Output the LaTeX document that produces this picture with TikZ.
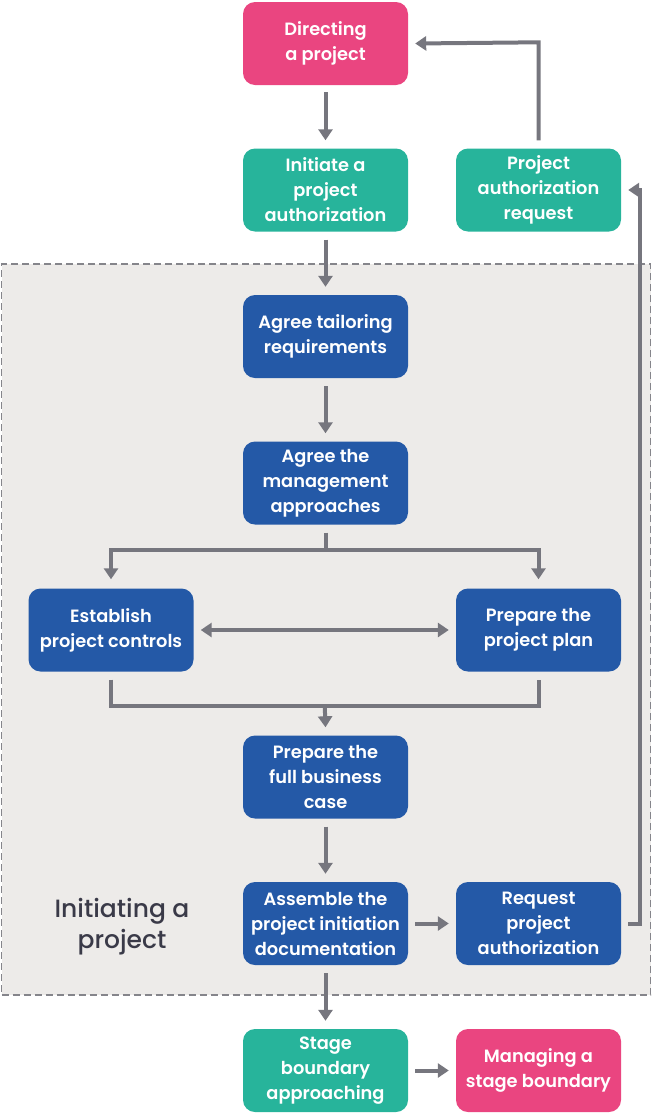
\documentclass[tikz,border=0pt]{standalone}
\usepackage{fontspec}
\setmainfont{Poppins}[UprightFont={* Medium},BoldFont={* SemiBold}]
\usetikzlibrary{arrows.meta,calc}
\definecolor{cpink}{HTML}{EA4580}
\definecolor{cteal}{HTML}{27B49B}
\definecolor{cblue}{HTML}{2459A7}
\definecolor{carrow}{HTML}{76767E}
\definecolor{cregion}{HTML}{EDEBE9}
\definecolor{cborder}{HTML}{85858B}
\definecolor{clabel}{HTML}{3A3A48}
\begin{document}
\begin{tikzpicture}[x=1pt,y=-1pt,
  box/.style={rectangle,rounded corners=12pt,minimum width=165pt,minimum height=83pt,
    align=center,text=white,inner sep=1pt,font=\fontsize{17.8}{25}\selectfont\bfseries},
  pinkbox/.style={box,fill=cpink},
  tealbox/.style={box,fill=cteal},
  bluebox/.style={box,fill=cblue},
  arr/.style={draw=carrow,line width=4pt,line join=miter,-{Triangle[width=14pt,length=11pt]}},
  plain/.style={draw=carrow,line width=4pt,line join=miter}]
\useasboundingbox (0,0) rectangle (652,1114);
\node[draw=cborder,dashed,line width=1.5pt,dash pattern=on 7pt off 4pt,fill=cregion,
  minimum width=649pt,minimum height=731pt,inner sep=0pt] (region) at (326,629.5) {};
\node[pinkbox] (dir) at (325.5,43.5) {Directing\\a project};
\node[tealbox] (init) at (325.5,190) {Initiate a\\project\\authorization};
\node[tealbox] (par) at (538.5,190) {Project\\authorization\\request};
\node[bluebox] (tail) at (325.5,336.5) {Agree tailoring\\requirements};
\node[bluebox] (mgmt) at (325.5,483) {Agree the\\management\\approaches};
\node[bluebox] (est) at (111,630) {Establish\\project controls};
\node[bluebox] (plan) at (538.5,630) {Prepare the\\project plan};
\node[bluebox] (bus) at (325.5,777) {Prepare the\\full business\\case};
\node[bluebox] (pid) at (325.5,923.5) {Assemble the\\project initiation\\documentation};
\node[bluebox] (req) at (538.5,923.5) {Request\\project\\authorization};
\node[tealbox] (sba) at (325.5,1070.5) {Stage\\boundary\\approaching};
\node[pinkbox] (msb) at (538.5,1070.5) {Managing a\\stage boundary};
\node[text=clabel,align=center,font=\fontsize{25}{31}\selectfont] (lbl) at (122,927) {Initiating a\\project};
\draw[arr,shorten <=7pt,shorten >=8pt] (dir) -- (init);
\draw[arr,shorten <=8pt,shorten >=8pt] (init) -- (tail);
\draw[arr,shorten <=8pt,shorten >=8pt] (tail) -- (mgmt);
\draw[arr,shorten <=8pt,shorten >=8pt] (bus) -- (pid);
\draw[arr,shorten <=8pt,shorten >=8pt] (pid) -- (sba);
\draw[arr,shorten <=7pt,shorten >=7pt] (pid) -- (req);
\draw[arr,shorten <=7pt,shorten >=7pt] (sba) -- (msb);
\draw[draw=carrow,line width=4pt,{Triangle[width=14pt,length=11pt]}-{Triangle[width=14pt,length=11pt]},shorten <=7pt,shorten >=7pt] (est) -- (plan);
\draw[arr,shorten <=8pt] (par.north) -- ($(par.north)+(0,-106)$) -- ([xshift=7pt]dir.east);
\draw[arr,shorten <=7pt] (req.east) -- ($(req.east)+(19,0)$) |- ([xshift=7pt]par.east);
\draw[arr,shorten <=8pt] (mgmt.south) -- ($(mgmt.south)+(0,25)$) -| ([yshift=9pt]est.north);
\draw[arr] ($(mgmt.south)+(0,25)$) -| ([yshift=9pt]plan.north);
\draw[plain,shorten <=8pt] (est.south) -- ($(est.south)+(0,34)$) -| ([yshift=-8pt]plan.south);
\draw[arr] ($(est.south)!0.5!(plan.south)+(0,34)$) -- ([yshift=8pt]bus.north);
\end{tikzpicture}
\end{document}
